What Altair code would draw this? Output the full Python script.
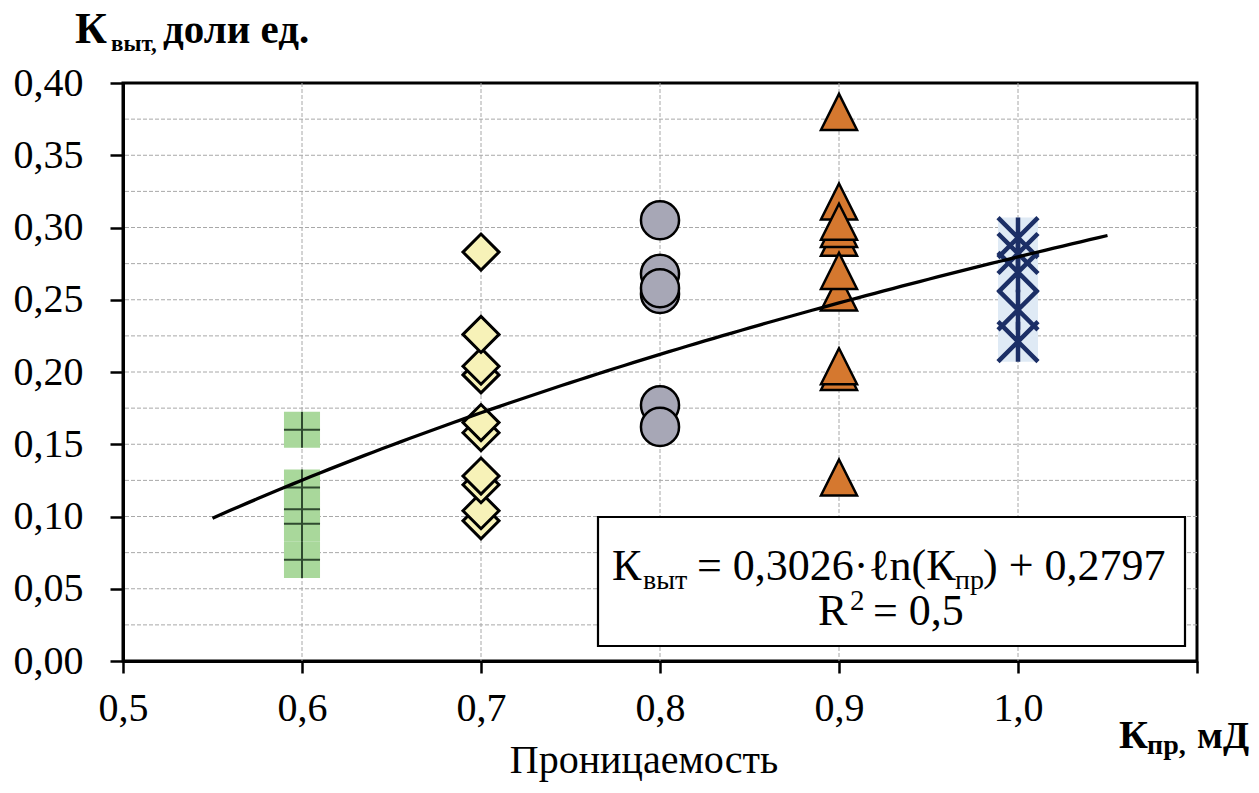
import altair as alt
import pandas as pd

SERIF = "Liberation Serif"

# ---------------- data ----------------
green_x = 0.6
green_vals = [0.160, 0.120, 0.105, 0.095, 0.070]

diamond_x = 0.7
diamond_vals = [0.097, 0.104, 0.122, 0.128, 0.158, 0.165, 0.198, 0.204, 0.226, 0.283]

circle_x = 0.8
circle_vals = [0.305, 0.268, 0.254, 0.258, 0.177, 0.162]

triangle_x = 0.9
triangle_vals = [0.380, 0.318, 0.293, 0.299, 0.304, 0.255, 0.270, 0.200, 0.204, 0.127]

star_x = 1.0
star_vals = [0.221, 0.243, 0.269, 0.282, 0.293]

TREND_A = 0.3026
TREND_B = 0.2797
trend_start, trend_end = 0.55, 1.05

x_ticks = [0.5, 0.6, 0.7, 0.8, 0.9, 1.0, 1.1]
y_ticks = [0.0, 0.05, 0.10, 0.15, 0.20, 0.25, 0.30, 0.35, 0.40]
x_grid = [0.6, 0.7, 0.8, 0.9, 1.0]
y_grid = [0.025, 0.05, 0.075, 0.10, 0.125, 0.15, 0.175, 0.20, 0.225, 0.25,
          0.275, 0.30, 0.325, 0.35, 0.375]

# ---------------- layout ----------------
W, H = 1074, 578
OX, OY = 123, 83  # page position of plot origin

xscale = alt.Scale(domain=[0.5, 1.1], nice=False, zero=False)
yscale = alt.Scale(domain=[0.0, 0.4], nice=False, zero=False)

common_axis = dict(
    title=None, grid=False, domainColor="black", domainWidth=3,
    tickColor="black", tickWidth=2.5, labelFont=SERIF, labelFontSize=40,
    labelColor="black", labelOverlap=False, labelFlush=False,
)
xaxis = alt.Axis(
    values=x_ticks,
    labelExpr="datum.value > 1.05 ? '' : replace(format(datum.value, '.1f'), '.', ',')",
    tickSize=12, labelPadding=15, **common_axis,
)
yaxis = alt.Axis(
    values=y_ticks,
    labelExpr="replace(format(datum.value, '.2f'), '.', ',')",
    tickSize=13, labelPadding=27, **common_axis,
)

X = alt.X("x:Q", scale=xscale, axis=xaxis)
Y = alt.Y("y:Q", scale=yscale, axis=yaxis)


def pts(xv, vals):
    return pd.DataFrame({"x": [xv] * len(vals), "y": vals})


PLUS = "M-1,0H1M0,-1V1"
STAR = "M-1,-1L1,1M1,-1L-1,1M0,-1V1"
TRI = "M0,-1L1,1L-1,1Z"

layers = []

# grid
layers.append(
    alt.Chart(pd.DataFrame({"y": y_grid})).mark_rule(
        color="#a8a8a8", strokeWidth=1, strokeDash=[4, 2]
    ).encode(y=Y)
)
layers.append(
    alt.Chart(pd.DataFrame({"x": x_grid})).mark_rule(
        color="#a8a8a8", strokeWidth=1, strokeDash=[4, 2]
    ).encode(x=X)
)

# green plus markers with square fill
g = pts(green_x, green_vals)
layers.append(alt.Chart(g).mark_point(shape="square", size=1300, filled=True,
                                      fill="#a9d89b", opacity=1, strokeWidth=0).encode(x=X, y=Y))
layers.append(alt.Chart(g).mark_point(shape=PLUS, size=1300, filled=False,
                                      stroke="#2f4a2f", strokeWidth=2, opacity=1).encode(x=X, y=Y))

# diamonds
layers.append(alt.Chart(pts(diamond_x, diamond_vals)).mark_point(
    shape="diamond", size=1300, filled=True, fill="#f7f2b8", stroke="black",
    strokeWidth=3, opacity=1).encode(x=X, y=Y))

# circles
layers.append(alt.Chart(pts(circle_x, circle_vals)).mark_point(
    shape="circle", size=1450, filled=True, fill="#a7a7b6", stroke="black",
    strokeWidth=2.5, opacity=1).encode(x=X, y=Y))

# triangles
layers.append(alt.Chart(pts(triangle_x, triangle_vals)).mark_point(
    shape=TRI, size=1300, filled=True, fill="#d5782f", stroke="black",
    strokeWidth=2.5, opacity=1).encode(x=X, y=Y))

# stars with light-blue square fill
s = pts(star_x, star_vals)
layers.append(alt.Chart(s).mark_point(shape="square", size=1600, filled=True,
                                      fill="#dfeaf5", opacity=1, strokeWidth=0).encode(x=X, y=Y))
layers.append(alt.Chart(s).mark_point(shape=STAR, size=1600, filled=False,
                                      stroke="#1c2f66", strokeWidth=4.5, opacity=1).encode(x=X, y=Y))

# trend line from the stated equation
layers.append(
    alt.Chart(alt.sequence(trend_start, trend_end + 0.0005, 0.005, as_="x"))
    .transform_calculate(y=f"{TREND_A}*log(datum.x)+{TREND_B}")
    .mark_line(color="black", strokeWidth=3.3)
    .encode(x=X, y=Y)
)

# equation box
layers.append(
    alt.Chart(alt.Data(values=[{}])).mark_rect(fill="white", stroke="black", strokeWidth=2.2)
    .encode(x=alt.value(598 - OX), x2=alt.value(1185 - OX),
            y=alt.value(517 - OY), y2=alt.value(646 - OY))
)


def txt(s, x, y, size, bold=False, align="left", baseline="alphabetic"):
    return alt.Chart(alt.Data(values=[{}])).mark_text(
        text=s, font=SERIF, fontSize=size, fontWeight="bold" if bold else "normal",
        align=align, baseline=baseline, color="black",
    ).encode(x=alt.value(x - OX), y=alt.value(y - OY))


# equation text
layers += [
    txt("К", 612, 580, 44),
    txt("выт", 643, 589, 28),
    txt("= 0,3026·ℓn(К", 697, 580, 44),
    txt("пр", 955, 589, 28),
    txt(") + 0,2797", 983, 580, 44),
    txt("R", 818, 625, 44),
    txt("2", 850, 610, 29),
    txt("= 0,5", 873, 625, 44),
]

# axis titles
layers += [
    txt("К", 75, 43, 44, bold=True),
    txt("выт,", 111, 51, 23, bold=True),
    txt("доли ед.", 163, 43, 41, bold=True),
    txt("К", 1119, 748, 40, bold=True),
    txt("пр,", 1147, 754, 28, bold=True),
    txt("мД", 1197, 748, 38, bold=True),
    txt("Проницаемость", 644, 773, 40, align="center"),
]

chart = alt.layer(*layers).properties(
    width=W, height=H,
    autosize=alt.AutoSizeParams(type="none"),
    padding={"left": OX - 8, "top": OY - 8, "right": 54, "bottom": 121},
    background="white",
).configure_view(stroke="black", strokeWidth=3)

chart.save("out.html", embed_options={"renderer": "svg", "actions": False})
